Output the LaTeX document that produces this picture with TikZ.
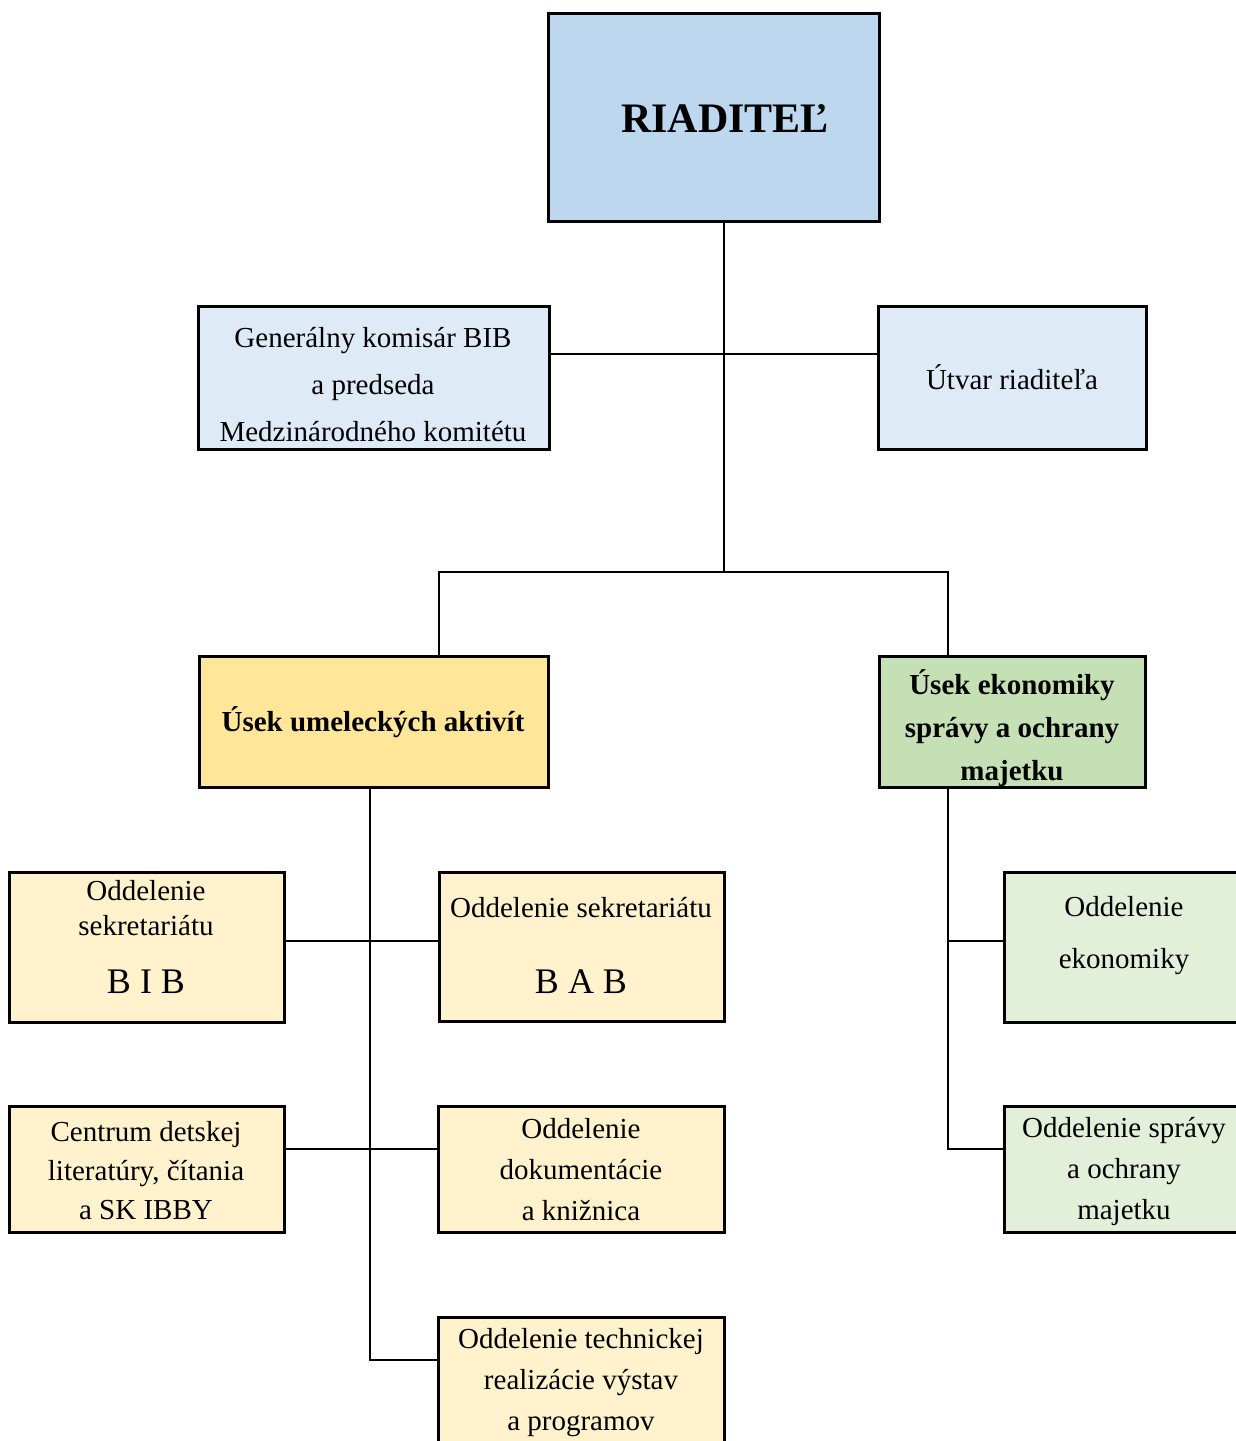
\documentclass[tikz,border=0pt]{standalone}
\usepackage{fontspec}
\setmainfont{Liberation Serif}
\definecolor{cRiad}{HTML}{BDD7EE}
\definecolor{cBlueL}{HTML}{DEEBF7}
\definecolor{cYel}{HTML}{FFE699}
\definecolor{cYelL}{HTML}{FFF2CC}
\definecolor{cGrn}{HTML}{C5E0B4}
\definecolor{cGrnL}{HTML}{E2F0D9}
\begin{document}
\begin{tikzpicture}[x=1pt,y=-1pt,
  box/.style={draw=black, line width=3pt, rectangle, inner sep=0pt, anchor=center},
  txt/.style={inner sep=0pt, align=center, anchor=center, font=\fontsize{29}{41}\selectfont},
  conn/.style={draw=black, line width=1.7pt}]
\useasboundingbox (0,0) rectangle (1236,1441);
% boxes
\node[box, fill=cRiad, minimum width=331pt, minimum height=208pt] (riad) at (713.5,117) {};
\node[txt, font=\fontsize{42}{48}\selectfont\bfseries] (triad) at (725,119) {RIADITEĽ};
\node[box, fill=cBlueL, minimum width=351pt, minimum height=143pt] (gen) at (373.5,377.5) {};
\node[txt, font=\fontsize{29}{47}\selectfont] (tgen) at (373,385) {Generálny komisár BIB\\a predseda\\Medzinárodného komitétu};
\node[box, fill=cBlueL, minimum width=268pt, minimum height=143pt] (utv) at (1012,377.5) {};
\node[txt] (tutv) at (1012,377) {Útvar riaditeľa};
\node[box, fill=cYel, minimum width=349pt, minimum height=131pt] (usek1) at (373.5,721.5) {};
\node[txt, font=\fontsize{29}{43}\selectfont\bfseries] (tusek1) at (373,722) {Úsek umeleckých aktivít};
\node[box, fill=cGrn, minimum width=266pt, minimum height=131pt] (usek2) at (1012,721.5) {};
\node[txt, font=\fontsize{29}{43}\selectfont\bfseries] (tusek2) at (1012,728) {Úsek ekonomiky\\správy a ochrany\\majetku};
\node[box, fill=cYelL, minimum width=275pt, minimum height=150pt] (bib) at (146.5,947) {};
\node[txt, font=\fontsize{29}{35}\selectfont] (tbib) at (146,908) {Oddelenie\\sekretariátu};
\node[txt, font=\fontsize{36}{40}\selectfont] (tbib2) at (146,982) {B I B};
\node[box, fill=cYelL, minimum width=285pt, minimum height=149pt] (bab) at (581.5,946.5) {};
\node[txt] (tbab) at (581,908) {Oddelenie sekretariátu};
\node[txt, font=\fontsize{36}{40}\selectfont] (tbab2) at (581,982) {B A B};
\node[box, fill=cGrnL, minimum width=250pt, minimum height=150pt] (eko) at (1129,947) {};
\node[txt, font=\fontsize{29}{52}\selectfont] (teko) at (1124,936) {Oddelenie\\ekonomiky};
\node[box, fill=cYelL, minimum width=275pt, minimum height=126pt] (cen) at (146.5,1169) {};
\node[txt, font=\fontsize{29}{39}\selectfont] (tcen) at (146,1171) {Centrum detskej\\literatúry, čítania\\a SK IBBY};
\node[box, fill=cYelL, minimum width=286pt, minimum height=126pt] (dok) at (581,1169) {};
\node[txt] (tdok) at (581,1170) {Oddelenie\\dokumentácie\\a knižnica};
\node[box, fill=cGrnL, minimum width=250pt, minimum height=126pt] (spr) at (1129,1169) {};
\node[txt] (tspr) at (1124,1171) {Oddelenie správy\\a ochrany\\majetku};
\node[box, fill=cYelL, minimum width=286pt, minimum height=140pt] (tech) at (581,1387) {};
\node[txt] (ttech) at (581,1383) {Oddelenie technickej\\realizácie výstav\\a programov};
% junction coordinates
\coordinate (trunk) at (724,572);
\coordinate (hub) at (724,354);
\coordinate (bl) at (439,572);
\coordinate (br) at (948,572);
\coordinate (sp) at (370,1360);
\coordinate (c1) at (370,941);
\coordinate (c2) at (370,1149);
\coordinate (rs1) at (948,941);
\coordinate (rs2) at (948,1149);
% connectors
\draw[conn] (trunk |- riad.south) -- (trunk);
\draw[conn] (gen.east |- hub) -- (utv.west |- hub);
\draw[conn] (bl |- usek1.north) -- (bl) -- (br) -- (br |- usek2.north);
\draw[conn] (sp |- usek1.south) -- (sp) -- (tech.west |- sp);
\draw[conn] (bib.east |- c1) -- (bab.west |- c1);
\draw[conn] (cen.east |- c2) -- (dok.west |- c2);
\draw[conn] (rs2 |- usek2.south) -- (rs2) -- (spr.west |- rs2);
\draw[conn] (rs1) -- (eko.west |- rs1);
\end{tikzpicture}
\end{document}
